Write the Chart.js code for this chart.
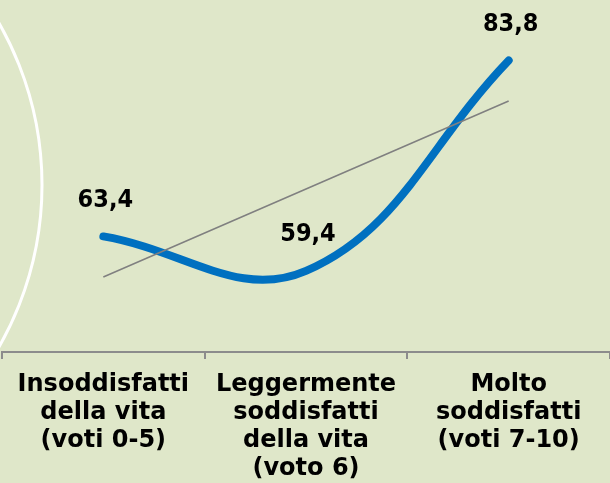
<!DOCTYPE html>
<html>
<head>
  <meta charset="UTF-8">
  <title>Soddisfazione per la vita</title>
  <script src="https://cdn.jsdelivr.net/npm/chart.js"></script>
  <style>
    html, body {
      margin: 0;
      padding: 0;
      background: #dfe7c9;
    }
    .chart-container {
      position: relative;
      width: 610px;
      height: 483px;
    }
  </style>
</head>
<body>
  <div class="chart-container">
    <canvas id="lifeChart"></canvas>
  </div>

  <script>
    const categories = [
      ['Insoddisfatti', 'della vita', '(voti 0-5)'],
      ['Leggermente', 'soddisfatti', 'della vita', '(voto 6)'],
      ['Molto', 'soddisfatti', '(voti 7-10)']
    ];
    const values = [63.4, 59.4, 83.8];
    const trendValues = [58.7, 68.9, 79.1];

    const AXIS_FONT = '"DejaVu Sans", Verdana, sans-serif';
    const VALUE_FONT = '"DejaVu Sans Condensed", "DejaVu Sans", sans-serif';

    // white arc on the left edge, behind everything
    const arcBackdrop = {
      id: 'arcBackdrop',
      beforeDraw(chart) {
        const ctx = chart.ctx;
        ctx.save();
        ctx.strokeStyle = '#ffffff';
        ctx.lineWidth = 3;
        ctx.beginPath();
        ctx.arc(-284, 185, 326, -Math.PI / 2, Math.PI / 2);
        ctx.stroke();
        ctx.restore();
      }
    };

    // value labels above each point, with decimal comma
    const valueLabels = {
      id: 'valueLabels',
      afterDatasetsDraw(chart) {
        const ctx = chart.ctx;
        const meta = chart.getDatasetMeta(1);
        ctx.save();
        ctx.font = 'bold 25px ' + VALUE_FONT;
        ctx.fillStyle = '#000000';
        ctx.textAlign = 'center';
        ctx.textBaseline = 'middle';
        meta.data.forEach((pt, i) => {
          const txt = values[i].toFixed(1).replace('.', ',');
          ctx.fillText(txt, pt.x + 2, pt.y - 36);
        });
        ctx.restore();
      }
    };

    const ctx = document.getElementById('lifeChart').getContext('2d');
    new Chart(ctx, {
      type: 'line',
      data: {
        labels: categories,
        datasets: [
          {
            label: 'Tendenza',
            data: trendValues,
            borderColor: '#808080',
            borderWidth: 1.6,
            tension: 0,
            pointRadius: 0,
            fill: false,
            order: 0
          },
          {
            label: 'Valore',
            data: values,
            borderColor: '#0070c0',
            borderWidth: 8,
            borderCapStyle: 'round',
            borderJoinStyle: 'round',
            tension: 0.4,
            pointRadius: 0,
            fill: false,
            clip: false,
            order: 1
          }
        ]
      },
      options: {
        responsive: true,
        maintainAspectRatio: false,
        animation: false,
        layout: {
          padding: { top: 7, left: 2, right: 0, bottom: -12 }
        },
        plugins: {
          legend: { display: false },
          tooltip: { enabled: false }
        },
        scales: {
          x: {
            offset: true,
            grid: {
              offset: true,
              drawOnChartArea: false,
              drawTicks: true,
              tickLength: 7,
              color: '#8c8c8c',
              lineWidth: 2
            },
            border: { display: true, color: '#8c8c8c', width: 2 },
            ticks: {
              color: '#000000',
              padding: 12,
              maxRotation: 0,
              autoSkip: false,
              font: { family: AXIS_FONT, size: 24, weight: 'bold', lineHeight: '28px' }
            }
          },
          y: {
            display: false,
            min: 50,
            max: 90
          }
        }
      },
      plugins: [arcBackdrop, valueLabels]
    });
  </script>
</body>
</html>
